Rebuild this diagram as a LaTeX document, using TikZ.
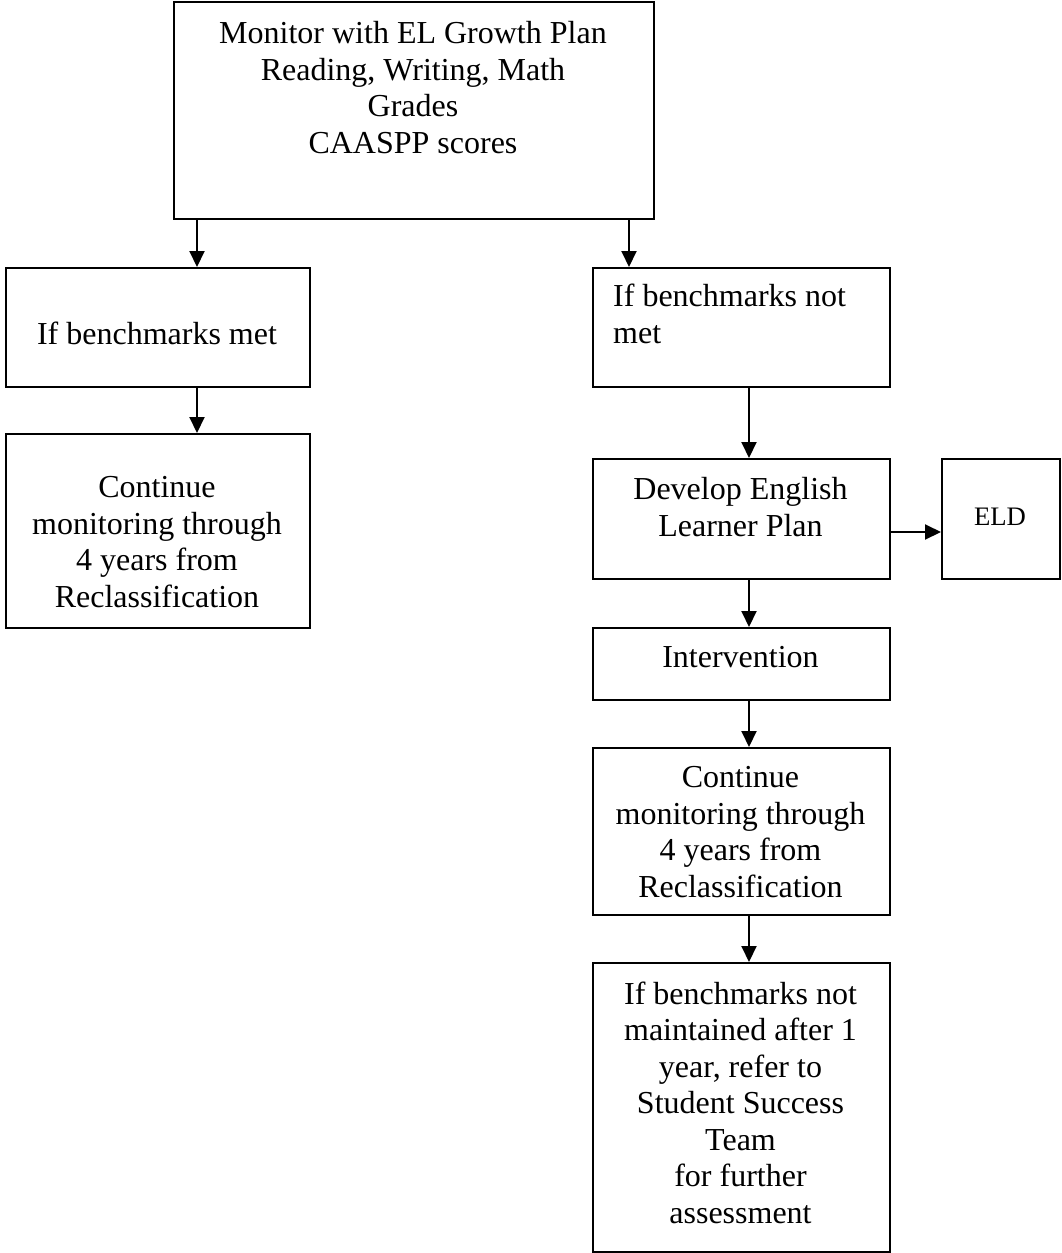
\documentclass[tikz,border=0pt]{standalone}
\usepackage{fontspec}
\setmainfont{Liberation Serif}
\usetikzlibrary{arrows.meta}
\begin{document}
\begin{tikzpicture}[x=1pt,y=-1pt,
  box/.style={draw=black,line width=2pt,inner sep=0pt,anchor=north west},
  txt/.style={inner sep=0pt,align=center,anchor=base,font=\fontsize{32}{36.5}\selectfont},
  arr/.style={line width=2pt,-{Triangle[length=16pt,width=15pt]}}]
\useasboundingbox (0,0) rectangle (1062,1253);
% boxes
\node[box,minimum width=480pt,minimum height=217pt] (top) at (173,1) {};
\node[box,minimum width=304pt,minimum height=119pt] (lb1) at (5,267) {};
\node[box,minimum width=304pt,minimum height=194pt] (lb2) at (5,433) {};
\node[box,minimum width=297pt,minimum height=119pt] (rb1) at (592,267) {};
\node[box,minimum width=297pt,minimum height=120pt] (dev) at (592,458) {};
\node[box,minimum width=118pt,minimum height=120pt] (eld) at (941,458) {};
\node[box,minimum width=297pt,minimum height=72pt] (int) at (592,627) {};
\node[box,minimum width=297pt,minimum height=167pt] (cont) at (592,747) {};
\node[box,minimum width=297pt,minimum height=289pt] (last) at (592,962) {};
% texts (anchored at the baseline of their last line)
\node[txt] (topt) at (413,153) {Monitor with EL Growth Plan\\Reading, Writing, Math\\Grades\\CAASPP scores};
\node[txt] (lb1t) at (157,344) {If benchmarks met};
\node[txt] (lb2t) at (157,607) {Continue\\monitoring through\\4 years from\\Reclassification};
\node[txt,align=left,anchor=base west] (rb1t) at (613,343) {If benchmarks not\\met};
\node[txt] (devt) at (740.5,536) {Develop English\\Learner Plan};
\node[txt,font=\fontsize{26.7}{30}\selectfont] (eldt) at (1000,525) {ELD};
\node[txt] (intt) at (740.5,667) {Intervention};
\node[txt] (contt) at (740.5,897) {Continue\\monitoring through\\4 years from\\Reclassification};
\node[txt] (lastt) at (740.5,1223) {If benchmarks not\\maintained after 1\\year, refer to\\Student Success\\Team\\for further\\assessment};
% connector x positions
\coordinate (xl) at (197,0);
\coordinate (xr) at (629,0);
\coordinate (xm) at (749,0);
\coordinate (ye) at (0,532);
% connectors
\draw[arr] (top.south -| xl) -- (lb1.north -| xl);
\draw[arr] (top.south -| xr) -- (rb1.north -| xr);
\draw[arr] (lb1.south -| xl) -- (lb2.north -| xl);
\draw[arr] (rb1.south -| xm) -- (dev.north -| xm);
\draw[arr] (dev.east |- ye) -- (eld.west |- ye);
\draw[arr] (dev.south -| xm) -- (int.north -| xm);
\draw[arr] (int.south -| xm) -- (cont.north -| xm);
\draw[arr] (cont.south -| xm) -- (last.north -| xm);
\end{tikzpicture}
\end{document}
